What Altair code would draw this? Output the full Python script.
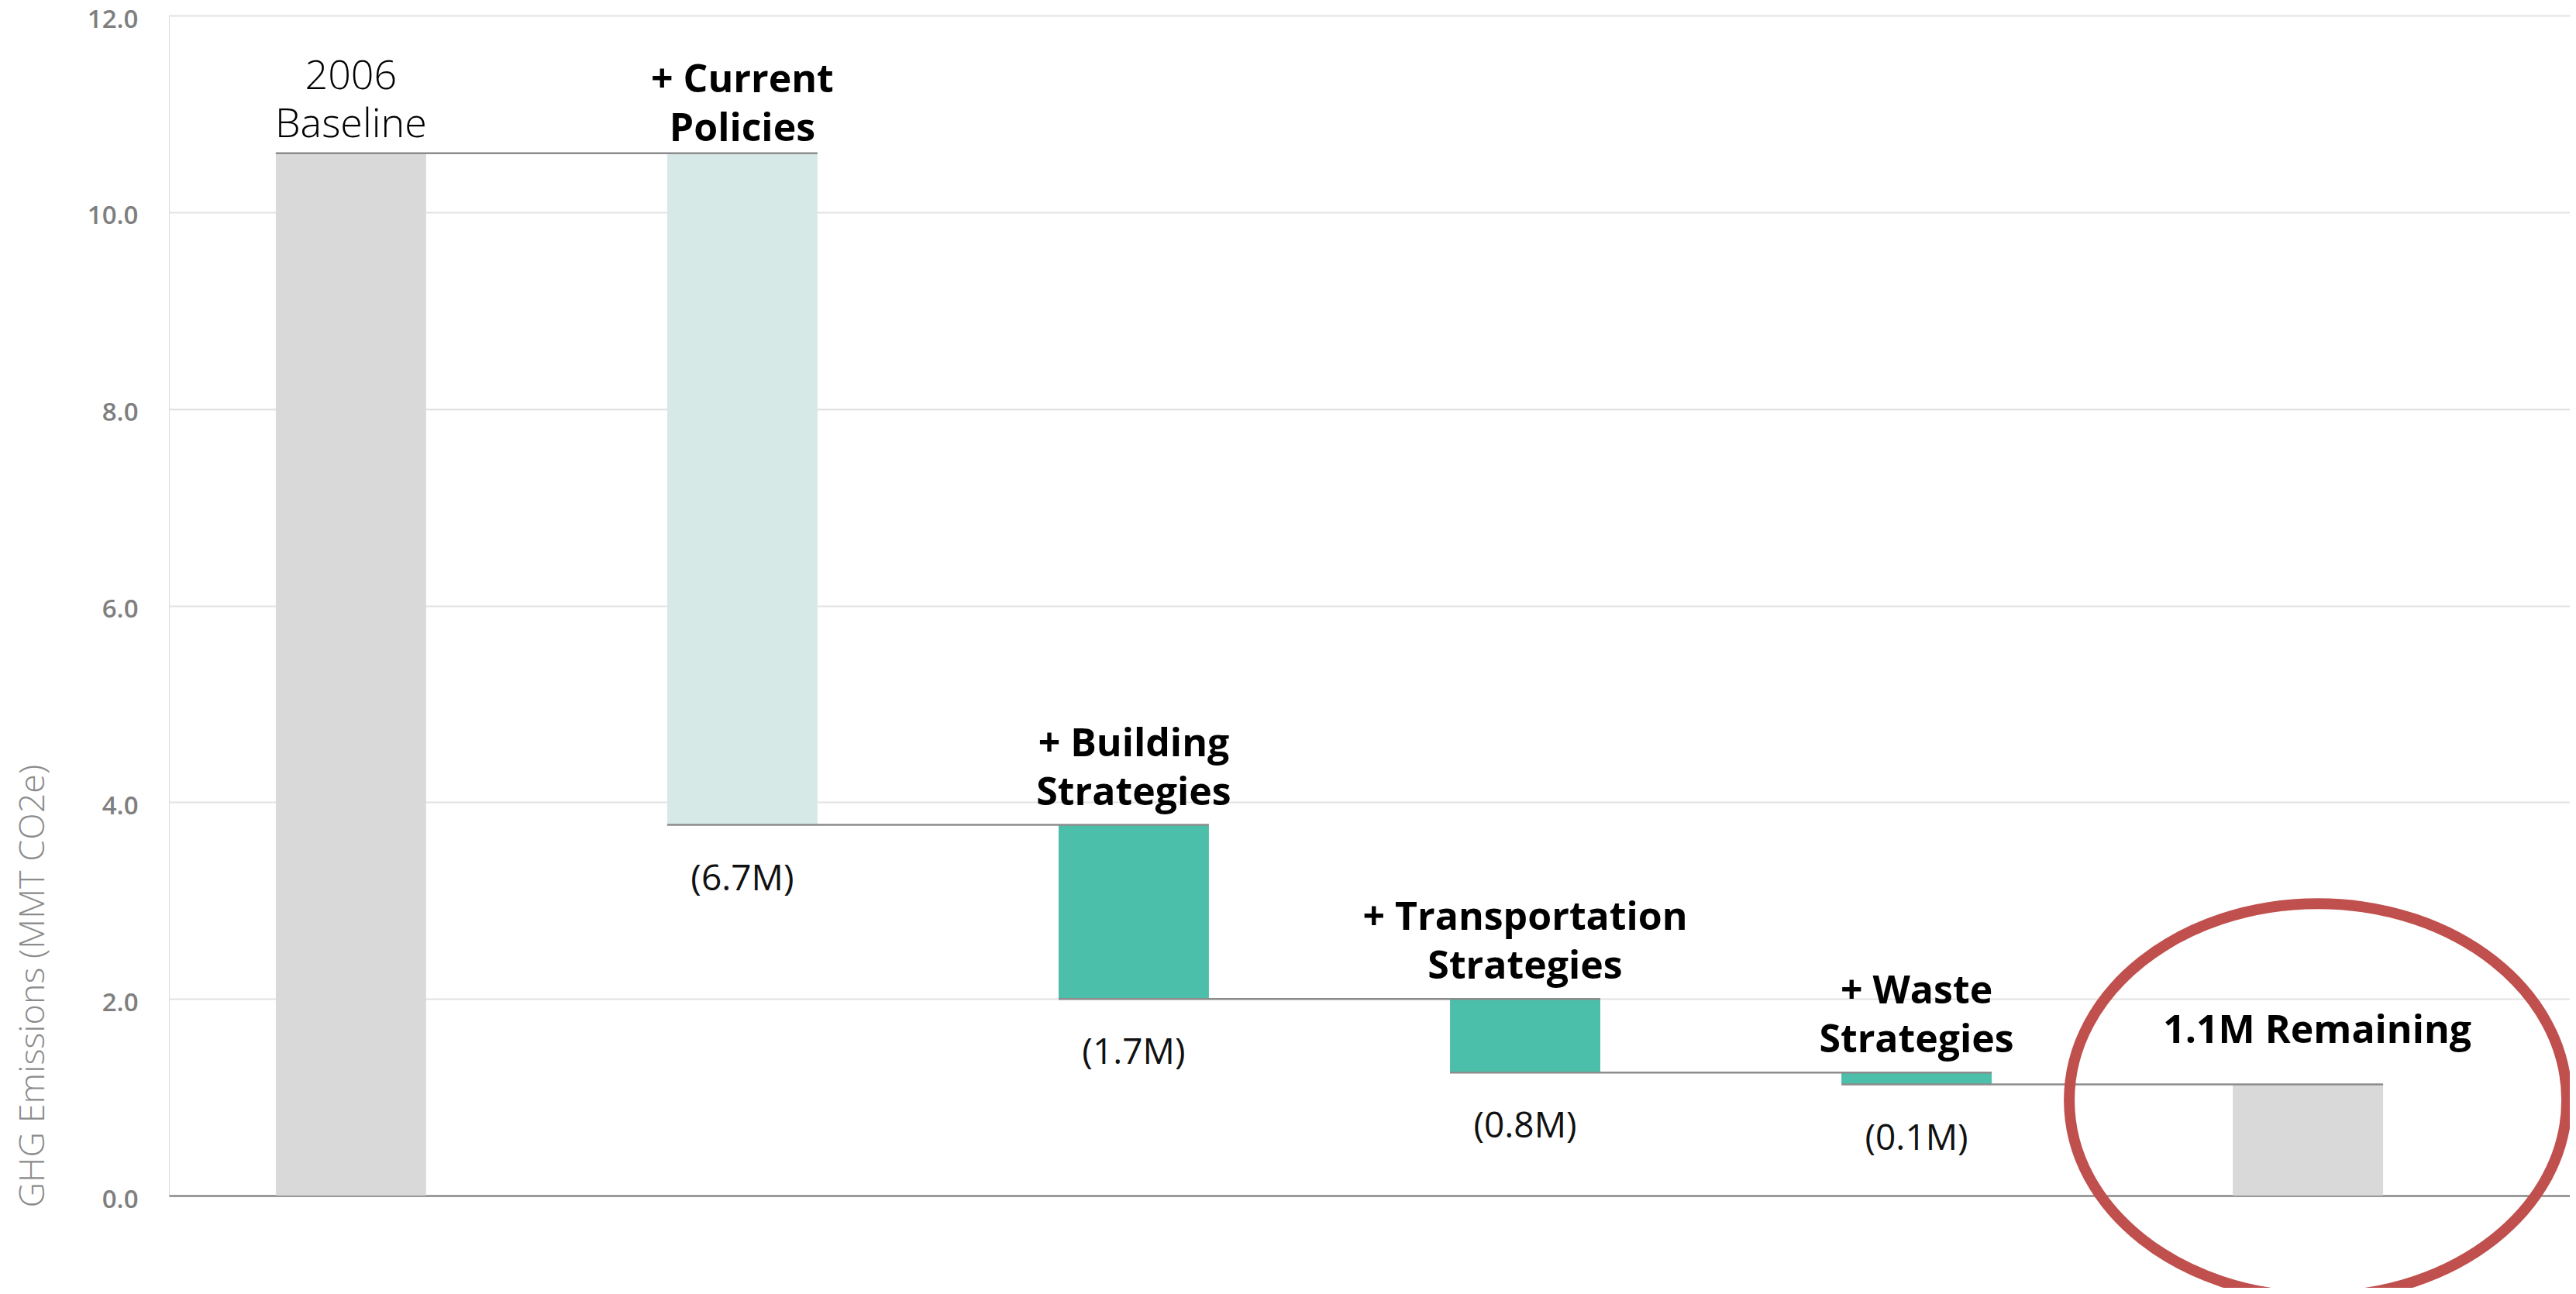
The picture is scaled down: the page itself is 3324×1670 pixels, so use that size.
import altair as alt
import pandas as pd

# ---- data ----
categories = ["2006 Baseline", "+ Current Policies", "+ Building Strategies",
              "+ Transportation Strategies", "+ Waste Strategies", "1.1M Remaining"]
top_labels = ["2006\nBaseline", "+ Current\nPolicies", "+ Building\nStrategies",
              "+ Transportation\nStrategies", "+ Waste\nStrategies", "1.1M Remaining"]
kinds = ["total", "current", "strategy", "strategy", "strategy", "remaining"]
# baseline emissions, then the reduction of each step (MMT CO2e)
changes = [10.60, -6.83, -1.77, -0.75, -0.12]
change_labels = ["", "(6.7M)", "(1.7M)", "(0.8M)", "(0.1M)", ""]
highlight_value = [0.97]   # vertical centre of the red highlight ellipse

# ---- waterfall table ----
rows = []
level = 0.0
for i, c in enumerate(changes):
    start, end = level, level + c
    rows.append(dict(cat=categories[i], start=start, end=end))
    level = end
rows.append(dict(cat=categories[-1], start=0.0, end=level))
df = pd.DataFrame(rows)
df["top"] = df[["start", "end"]].max(axis=1)
df["bottom"] = df[["start", "end"]].min(axis=1)
df["kind"] = kinds
df["label"] = top_labels
df["change"] = change_labels

conn = pd.DataFrame({
    "from": categories[:-1],
    "to": categories[1:],
    "level": df["end"].iloc[:-1].values,
})
hl = pd.DataFrame({"cat": [categories[-1]], "v": highlight_value})

xscale = alt.Scale(domain=categories, paddingInner=0.616, paddingOuter=0.375, align=0.364)
yscale = alt.Scale(domain=[0, 12], nice=False, zero=True)

x_axis = alt.Axis(labels=False, ticks=False, title=None, domain=True,
                  domainColor="#8a8a8a", domainWidth=2.5, grid=False)
y_axis = alt.Axis(values=[0, 2, 4, 6, 8, 10, 12], format=".1f", grid=True,
                  gridColor="#e2e2e2", gridWidth=2, domain=False, ticks=False,
                  labelPadding=40, labelFontSize=33, labelColor="#7f7f7f",
                  labelFont="Open Sans", labelFontWeight=600, labelOffset=5,
                  title="GHG Emissions (MMT CO2e)", titleFont="Open Sans",
                  titleFontSize=45, titleFontWeight=300, titleColor="#8c8c8c",
                  titleAngle=270, titleAlign="left", titleBaseline="middle",
                  titleX=-176, titleY=1538)

base = alt.Chart(df)


def label_layer(flt, dy, size, weight, line_height=63, dx=0):
    return base.transform_filter(flt).mark_text(
        font="Open Sans", fontSize=size, fontWeight=weight, lineBreak="\n",
        lineHeight=line_height, baseline="bottom", dy=dy, dx=dx, color="#000000"
    ).encode(x=alt.X("cat:N", scale=xscale, sort=categories),
             y=alt.Y("top:Q", scale=yscale), text="label:N")


bars = base.mark_bar().encode(
    x=alt.X("cat:N", scale=xscale, axis=x_axis, sort=categories),
    y=alt.Y("start:Q", scale=yscale, axis=y_axis),
    y2="end:Q",
    color=alt.Color("kind:N", legend=None,
                    scale=alt.Scale(domain=["total", "current", "strategy", "remaining"],
                                    range=["#d9d9d9", "#d7e9e6", "#4bbfaa", "#d9d9d9"])),
)

connectors = alt.Chart(conn).mark_rule(color="#8c8c8c", strokeWidth=2.5).encode(
    x=alt.X("from:N", scale=xscale, bandPosition=0, sort=categories),
    x2=alt.X2("to:N", bandPosition=1),
    y=alt.Y("level:Q", scale=yscale),
)

base_label = label_layer(alt.datum.kind == "total", -72, 52, 300, line_height=62)
cp_label = label_layer(alt.datum.kind == "current", -69, 50, "bold")
step_label = label_layer(alt.datum.kind == "strategy", -79, 50, "bold")
rem_label = label_layer(alt.datum.kind == "remaining", -44, 50, "bold", dx=12)

change_label = base.transform_filter(alt.datum.change != "").mark_text(
    font="Open Sans", fontSize=46, fontWeight="normal",
    baseline="middle", dy=70, color="#111111"
).encode(x=alt.X("cat:N", scale=xscale, sort=categories),
         y=alt.Y("bottom:Q", scale=yscale), text="change:N")

ellipse_path = "M -1 0 A 1 0.79 0 1 1 1 0 A 1 0.79 0 1 1 -1 0 Z"
ellipse = alt.Chart(hl).mark_point(
    shape=ellipse_path, size=412164, filled=False, stroke="#c0504d",
    strokeWidth=14, opacity=1, xOffset=13
).encode(x=alt.X("cat:N", scale=xscale, sort=categories),
         y=alt.Y("v:Q", scale=yscale))

chart = alt.layer(
    bars, connectors, base_label, cp_label, step_label, rem_label, change_label, ellipse
).properties(
    width=3098, height=1523,
    autosize=alt.AutoSizeParams(type="none"),
    padding={"left": 210, "top": 12, "right": 0, "bottom": 119},
).configure_view(stroke=None).configure(background="white")

chart.save("out.html", embed_options={"renderer": "svg", "actions": False})
